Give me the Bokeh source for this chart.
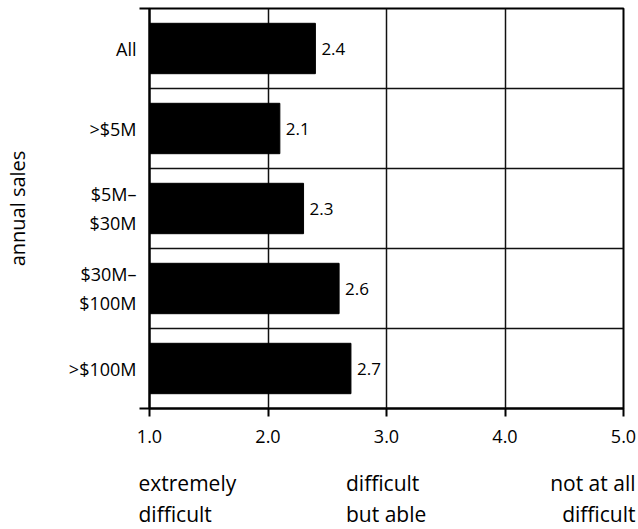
from bokeh.plotting import figure
from bokeh.models import Range1d, FixedTicker, ColumnDataSource
from bokeh.layouts import column, row
from bokeh.core.properties import value
from bokeh.embed import file_html
from bokeh.resources import INLINE

# ---- data ----
categories = ["All", ">$5M", "$5M–\n$30M", "$30M–\n$100M", ">$100M"]
scores = [2.4, 2.1, 2.3, 2.6, 2.7]
x_ticks = [1, 2, 3, 4, 5]
x_tick_labels = ["1.0", "2.0", "3.0", "4.0", "5.0"]
scale_positions = [1, 3, 5]
scale_labels = ["extremely\ndifficult", "difficult\nbut able", "not at all\ndifficult"]
y_axis_title = "annual sales"

FONT = "Open Sans"
W = 638
X0, X1 = 1.0, 5.0
FL, FR = 148, 15          # frame borders (px)
PX_PER_UNIT = (W - FL - FR) / (X1 - X0)

centers = [i + 0.5 for i in range(len(categories))]
src = ColumnDataSource(dict(
    y=centers,
    right=scores,
    lbl=["%.1f" % s for s in scores],
))

p = figure(width=W, height=460, output_backend="svg", toolbar_location=None,
           x_range=Range1d(X0, X1), y_range=Range1d(len(categories), 0),
           min_border_left=FL, min_border_right=FR, min_border_top=8,
           min_border_bottom=52)

p.background_fill_color = "white"
p.border_fill_color = "white"
p.outline_line_color = "black"
p.outline_line_width = 2

p.hbar(y="y", left=X0, right="right", height=0.63, source=src,
       fill_color="black", line_color="black")

p.text(x="right", y="y", text="lbl", source=src, x_offset=6,
       text_baseline="middle", text_align="left",
       text_font=value(FONT), text_font_size="17px", text_color="black")

# grids
p.xgrid.ticker = FixedTicker(ticks=x_ticks)
p.xgrid.grid_line_color = "#111111"
p.xgrid.grid_line_width = 1.5
p.ygrid.ticker = FixedTicker(ticks=list(range(1, len(categories))))
p.ygrid.grid_line_color = "#111111"
p.ygrid.grid_line_width = 1.5

# x axis
xa = p.xaxis[0]
xa.ticker = FixedTicker(ticks=x_ticks)
xa.major_label_overrides = {t: l for t, l in zip(x_ticks, x_tick_labels)}
xa.axis_line_width = 2
xa.major_tick_out = 8
xa.major_tick_in = 0
xa.major_tick_line_width = 2
xa.minor_tick_line_color = None
xa.major_label_standoff = 13
xa.major_label_text_font = FONT
xa.major_label_text_font_size = "18px"
xa.major_label_text_color = "black"

# y axis
ya = p.yaxis[0]
ya.ticker = FixedTicker(ticks=centers, minor_ticks=[0, len(categories)])
ya.major_label_overrides = {c: l for c, l in zip(centers, categories)}
ya.axis_line_width = 2
ya.major_tick_out = 0
ya.major_tick_in = 0
ya.minor_tick_out = 10
ya.minor_tick_in = 0
ya.minor_tick_line_width = 2
ya.minor_tick_line_color = "black"
ya.major_label_standoff = 3
ya.major_label_text_font = FONT
ya.major_label_text_font_size = "18px"
ya.major_label_text_color = "black"
ya.major_label_text_line_height = 1.2
ya.axis_label = y_axis_title
ya.axis_label_text_font = FONT
ya.axis_label_text_font_size = "20px"
ya.axis_label_text_font_style = "normal"
ya.axis_label_text_color = "black"
ya.axis_label_standoff = 35

# ---- scale descriptions under the axis (same horizontal scale, wider frame) ----
EL, ER = 138, 2
q = figure(width=W, height=69, output_backend="svg", toolbar_location=None,
           x_range=Range1d(X0 - (FL - EL) / PX_PER_UNIT, X1 + (FR - ER) / PX_PER_UNIT),
           y_range=Range1d(0, 1),
           min_border_left=EL, min_border_right=ER, min_border_top=0,
           min_border_bottom=0)
q.axis.visible = False
q.grid.visible = False
q.outline_line_color = None
q.background_fill_color = "white"
q.border_fill_color = "white"

dsrc = ColumnDataSource(dict(
    x=scale_positions,
    text=scale_labels,
    align=["left", "left", "right"],
    xo=[-10, -40, 12],
))
q.text(x="x", y=0.88, text="text", source=dsrc, x_offset="xo",
       text_align="align", text_baseline="top",
       text_font=value(FONT), text_font_size="21px", text_color="black",
       text_line_height=1.1)

layout = column(p, row(q, spacing=0), spacing=0)
open("out.html", "w").write(file_html(layout, INLINE))
